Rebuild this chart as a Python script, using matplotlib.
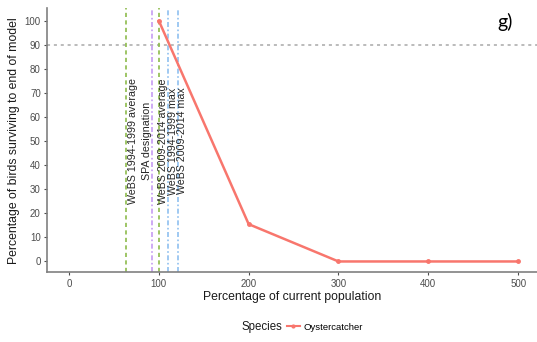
import matplotlib
matplotlib.use("Agg")
import matplotlib.pyplot as plt
from matplotlib.lines import Line2D

plt.rcParams['font.family'] = ['Liberation Sans', 'DejaVu Sans']

# Data
pop_pct = [100, 200, 300, 400, 500]
survival_pct = [100, 15.5, 0, 0, 0]
species = "Oystercatcher"

ref_names = ["WeBS 1994-1999 average", "SPA designation", "WeBS 2009-2014 average",
             "WeBS 1994-1999 max", "WeBS 2009-2014 max"]
ref_values = [63, 92, 100, 110, 121.5]
ref_colors = ["#8DBB4C", "#C69CF2", "#8DBB4C", "#8FC0F0", "#8FC0F0"]
ref_styles = [(0, (2.5, 2)), (0, (3, 1.5, 1, 1.5)), (0, (2.5, 2)), (0, (3, 1.5, 1, 1.5)), (0, (3, 1.5, 1, 1.5))]
label_offsets = [8, -5, 4.5, 5.5, 4.5]
threshold = 90

xticks = [0, 100, 200, 300, 400, 500]
yticks = [0, 10, 20, 30, 40, 50, 60, 70, 80, 90, 100]

fig = plt.figure(figsize=(5.37, 3.42), dpi=100)
ax = fig.add_axes([47/537, 1-272.3/342, 1-47/537, (272.3-8)/342])

ax.axhline(threshold, color="#A8A8A8", lw=1.1, ls=(0, (2, 2.5)), zorder=1)
for v, c, s, name, off in zip(ref_values, ref_colors, ref_styles, ref_names, label_offsets):
    ax.axvline(v, color=c, lw=1.2, ls=s, zorder=1)
    ax.text(v + off, 50, name, rotation=90, ha="center", va="center",
            fontsize=7.7, color="#262626", zorder=3)

ax.plot(pop_pct, survival_pct, color="#F8766D", lw=1.8, marker="o", ms=2.5, zorder=2)

ax.set_xlim(-24.5, 521)
ax.set_ylim(-4.5, 105.3)
ax.set_xticks(xticks)
ax.set_yticks(yticks)
ax.tick_params(axis="both", labelsize=7, colors="#4D4D4D", length=2.5, width=0.8, pad=2)
for sp in ["top", "right"]:
    ax.spines[sp].set_visible(False)
for sp in ["left", "bottom"]:
    ax.spines[sp].set_color("#808080")
    ax.spines[sp].set_linewidth(1.2)

ax.set_xlabel("Percentage of current population", fontsize=8.8, color="#1A1A1A", labelpad=2)
ax.set_ylabel("Percentage of birds surviving to end of model", fontsize=8.8, color="#1A1A1A", labelpad=3)

# Legend
fig.text(262/537, 1-327/342, "Species", fontsize=8.3, ha="center", va="center", color="#1A1A1A")
handle = Line2D([], [], color="#F8766D", lw=1.5, marker="o", ms=2)
fig.legend([handle], [species], loc="center", bbox_to_anchor=(325/537, 1-327/342),
           frameon=False, fontsize=6.8, handlelength=1.3, handletextpad=0.4)

fig.text(505/537, 1-22/342, "g)", fontsize=14, ha="center", va="center", color="black",
         family=["Lato", "DejaVu Sans"])

fig.savefig("out.png", dpi=100)
